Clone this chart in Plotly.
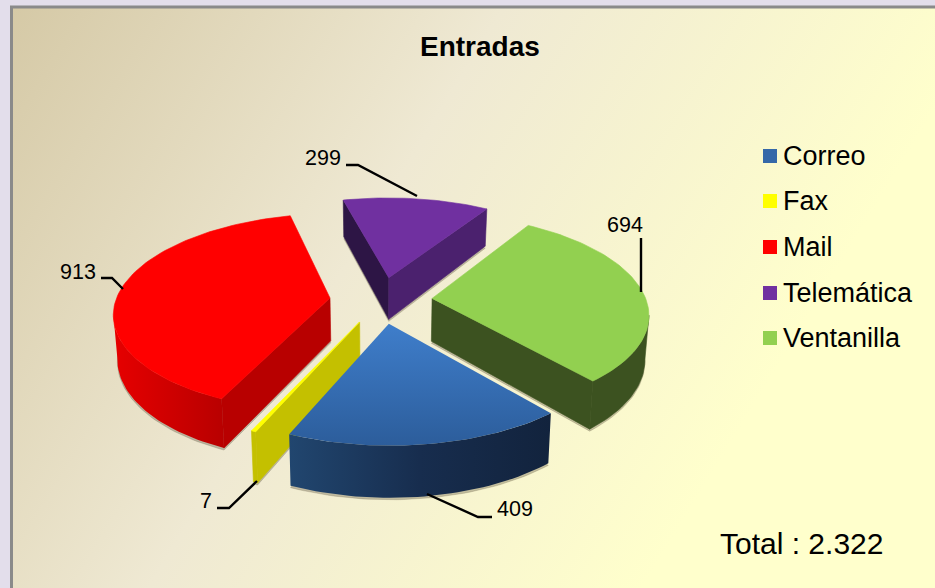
import base64
import math
import numpy as np
import plotly.graph_objects as go

# ---- data ----
categories = ["Correo", "Fax", "Mail", "Telemática", "Ventanilla"]
values = [409, 7, 913, 299, 694]
total_label = "Total : 2.322"
chart_title = "Entradas"

# ---- styles ----
top_colors = ["#3568A8", "#FFFF00", "#FF0000", "#7030A0", "#92D050"]
FONT = "Liberation Sans, Arial, sans-serif"

# ---- pie projection ----
START_DEG = -49.8
EXPLODE = 0.24
CX, CY = 381.0, 300.0
AX, BY, K = 214.0, 97.0, 0.142
DEPTH = 43.0
BOTTOM_SHRINK = 0.985


def project(x, y):
    d = 1 + K * y
    return CX + AX * x / d, CY - BY * y / d


def drop(px, py, y):
    d = 1 + K * y
    return CX + (px - CX) * BOTTOM_SHRINK, py + DEPTH / d


wedges = []
a = START_DEG
tot = sum(values)
for v in values:
    sweep = v / tot * 360.0
    wedges.append((a, a - sweep))
    a -= sweep


def wedge_geom(i):
    a0, a1 = wedges[i]
    mid = math.radians((a0 + a1) / 2)
    ox, oy = EXPLODE * math.cos(mid), EXPLODE * math.sin(mid)
    n = max(4, int(abs(a1 - a0) / 1.5))
    th = np.radians(np.linspace(a0, a1, n))
    dx = np.concatenate([[ox], ox + np.cos(th)])
    dy = np.concatenate([[oy], oy + np.sin(th)])
    sx, sy = project(dx, dy)
    bx, by = drop(sx, sy, dy)
    return sx, sy, bx, by


fig = go.Figure()


def poly(xs, ys, color=None, grad=None, name=None, opacity=None):
    kw = dict(fillcolor=color) if color else dict(fillgradient=grad)
    fig.add_trace(go.Scatter(
        x=list(xs) + [xs[0]], y=list(ys) + [ys[0]], mode="lines", fill="toself",
        line=dict(width=0.6 if color else 0, color=color if color else "rgba(0,0,0,0)"),
        showlegend=False, hoverinfo="skip", name=name, opacity=opacity, **kw))


def vgrad(c0, c1):
    return dict(type="vertical", colorscale=[[0, c0], [1, c1]])


def hgrad(*cs):
    n = len(cs) - 1
    return dict(type="horizontal", colorscale=[[j / n, c] for j, c in enumerate(cs)])


# visual treatment of every slice: top fill, rim fill, cut faces
rim_fill = [hgrad("#21466F", "#172D4E", "#12233D"), dict(color="#C4C000"),
            hgrad("#E60000", "#B80000"), dict(color="#4B216E"), dict(color="#3C5220")]
cut_fill = [("#1B3558", "#1B3558"), ("#C4C000", "#C4C000"), ("#B80000", "#B80000"),
            ("#2D1545", "#4B216E"), ("#3C5220", "#3C5220")]
draw_order = [3, 4, 2, 1, 0]

# soft contact shadows
for i in draw_order:
    sx, sy, bx, by = wedge_geom(i)
    poly(bx, by + 2.0, color="rgba(70,60,40,0.30)")

for i in draw_order:
    sx, sy, bx, by = wedge_geom(i)
    n = len(sx)
    area = sum(sx[j] * sy[(j + 1) % n] - sx[(j + 1) % n] * sy[j] for j in range(n))
    sign = 1 if area > 0 else -1
    vis = []
    for j in range(n):
        k = (j + 1) % n
        ex, ey = sx[k] - sx[j], sy[k] - sy[j]
        ny = -ex * sign  # screen-space outward normal, y component
        vis.append(ny > 0)
    # cut faces
    for j, col in ((0, cut_fill[i][0]), (n - 1, cut_fill[i][1])):
        if vis[j]:
            k = (j + 1) % n
            poly([sx[j], sx[k], bx[k], bx[j]], [sy[j], sy[k], by[k], by[j]], color=col, name=categories[i])
    # rim strip
    js = [j for j in range(1, n - 1) if vis[j]]
    if js:
        ids = js + [js[-1] + 1]
        xs = list(sx[ids]) + list(bx[ids][::-1])
        ys = list(sy[ids]) + list(by[ids][::-1])
        rf = rim_fill[i]
        if "color" in rf:
            poly(xs, ys, color=rf["color"], name=categories[i])
        else:
            poly(xs, ys, grad=rf, name=categories[i])
    # top face
    if i == 0:
        poly(sx, sy, grad=vgrad("#2C5D9B", "#3F7ECB"), name=categories[i])
    else:
        poly(sx, sy, color=top_colors[i], name=categories[i])

# ---- legend (built as marker + text rows) ----
legend_x = [770] * 5
legend_y = [156, 201, 247, 293, 338]
fig.add_trace(go.Scatter(
    x=legend_x, y=legend_y, mode="markers", showlegend=False, hoverinfo="skip",
    marker=dict(symbol="square", size=14, color=top_colors, line=dict(width=0))))
annotations = []
for c, lx, ly in zip(categories, legend_x, legend_y):
    annotations.append(dict(x=lx + 13, y=ly, text=c, xanchor="left", yanchor="middle", showarrow=False,
                            font=dict(size=27, color="#000000", family=FONT), xshift=-2))

# ---- value labels + leaders ----
labels = [("409", 497, 509, "left"), ("7", 200, 501, "left"), ("913", 60, 272, "left"),
          ("299", 305, 158, "left"), ("694", 607, 225, "left")]
leaders = [[(427, 494), (478, 517), (492, 517)],
           [(217, 508), (229, 508), (257, 481)],
           [(101, 278), (112, 278), (123, 289)],
           [(346, 165), (358, 165), (417, 196)],
           [(641, 238), (641, 292)]]
shapes = []
for pts in leaders:
    path = "M " + " L ".join(f"{x},{y}" for x, y in pts)
    shapes.append(dict(type="path", path=path, line=dict(color="#000000", width=2.4), layer="above"))
for t, x, y, anc in labels:
    annotations.append(dict(x=x, y=y, text=t, xanchor=anc, yanchor="middle", showarrow=False,
                            xshift=-2, font=dict(size=21.5, color="#000000", family=FONT)))

annotations.append(dict(x=480, y=46, text=f"<b>{chart_title}</b>", showarrow=False, xanchor="center",
                        yanchor="middle", font=dict(size=28, color="#000000", family=FONT)))
annotations.append(dict(x=720, y=543, text=total_label, showarrow=False, xanchor="left", xshift=-2,
                        yanchor="middle", font=dict(size=30, color="#000000", family=FONT)))

# frame
shapes.append(dict(type="path", path="M 11.5,588 L 11.5,7 L 935,7", line=dict(color="#8A8A8A", width=3), layer="above"))

# background gradient as an SVG image
svg = ('<svg xmlns="http://www.w3.org/2000/svg" width="925" height="582">'
       '<defs><linearGradient id="g" gradientUnits="userSpaceOnUse" x1="0" y1="0" x2="720" y2="440">'
       '<stop offset="0" stop-color="#D5C9A6"/><stop offset="0.5" stop-color="#EFE9D3"/>'
       '<stop offset="1" stop-color="#FFFFCC"/></linearGradient></defs>'
       '<rect width="925" height="582" fill="url(#g)"/></svg>')
bg_uri = "data:image/svg+xml;base64," + base64.b64encode(svg.encode()).decode()

fig.update_layout(
    width=935, height=588, margin=dict(l=0, r=0, t=0, b=0),
    paper_bgcolor="#E3DEEB", plot_bgcolor="rgba(0,0,0,0)",
    xaxis=dict(range=[0, 935], visible=False, fixedrange=True),
    yaxis=dict(range=[588, 0], visible=False, fixedrange=True),
    showlegend=False, annotations=annotations, shapes=shapes,
    images=[dict(source=bg_uri, xref="x", yref="y", x=10, y=6, sizex=925, sizey=582,
                 xanchor="left", yanchor="top", sizing="stretch", layer="below")],
)
fig.write_html("out.html", config=dict(displayModeBar=False),
               post_script="document.body.style.margin='0';")
